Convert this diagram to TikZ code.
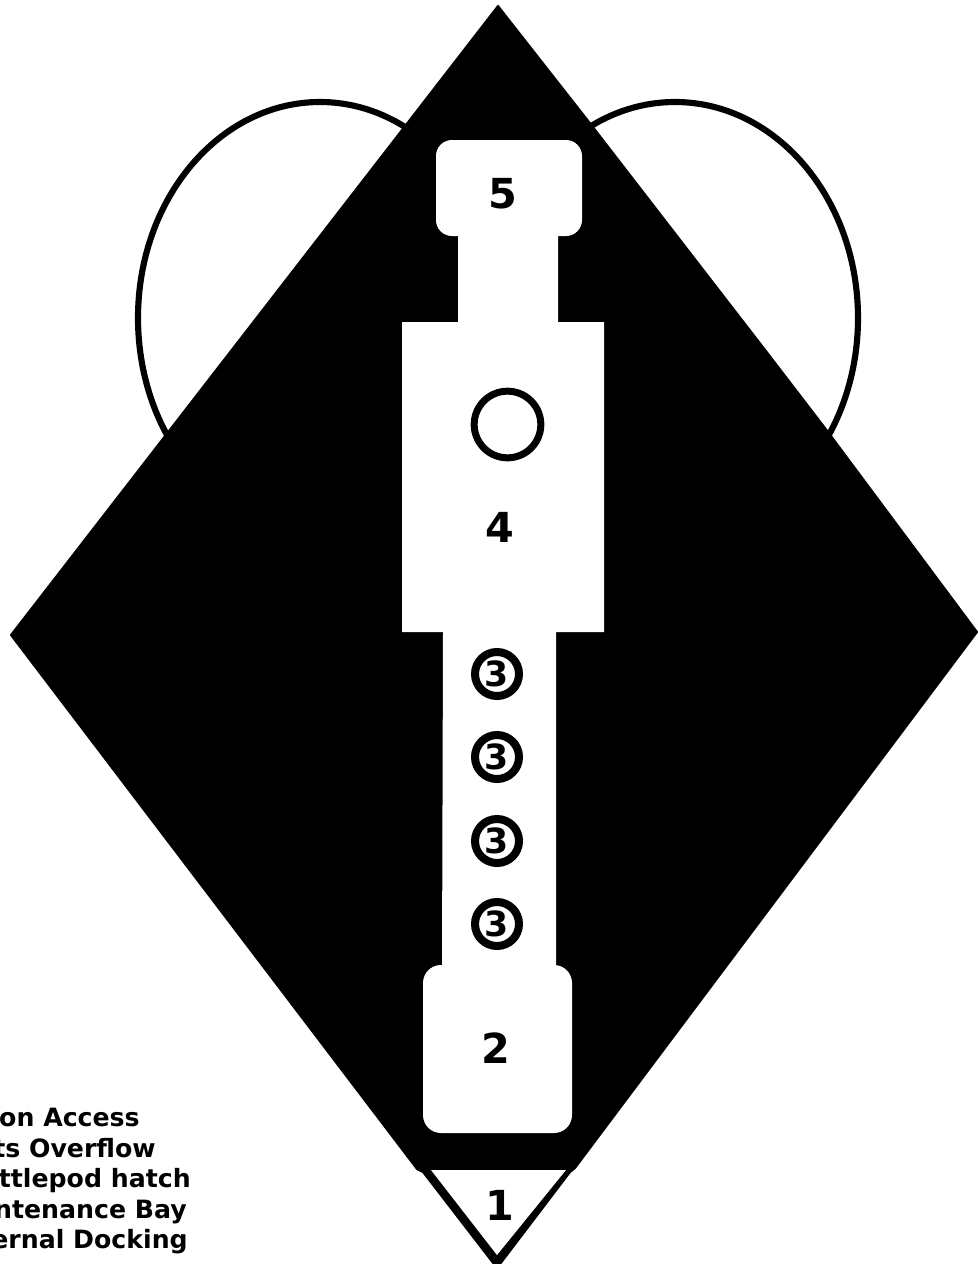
\documentclass[tikz,border=0pt]{standalone}
\usepackage{fontspec}
\setmainfont{DejaVu Sans}
\tikzset{
  ink/.style={fill=black,draw=black,line width=1.5pt,line join=round},
  room/.style={fill=white,draw=none},
  wing/.style={draw=black,line width=4.6pt},
  digit/.style={font=\bfseries\fontsize{31}{31}\selectfont,inner sep=0pt,text=black},
  pod/.style={circle,draw=black,fill=white,line width=6pt,minimum size=33pt,inner sep=0pt,font=\bfseries\fontsize{26}{26}\selectfont},
  hatch/.style={circle,draw=black,fill=white,line width=5.25pt,minimum size=50pt,inner sep=0pt},
  legend/.style={anchor=base east,inner sep=0pt,font=\bfseries\fontsize{18.9}{18.9}\selectfont}
}
\begin{document}
\begin{tikzpicture}[x=0.75pt,y=-0.75pt]
\useasboundingbox (0,0) rectangle (978,1264);
\clip (0,0) rectangle (978,1264);
% side loops
\draw[wing] (320,318) ellipse [x radius=182,y radius=216];
\draw[wing] (675,318) ellipse [x radius=183,y radius=216];
% hull
\fill[ink] (498,6) -- (589,122) -- (769,355) -- (825,428) -- (977,632) -- (575,1168) -- (570,1172) -- (497,1268) -- (423,1172) -- (417,1169) -- (11,635) -- cycle;
% white triangle
\fill[room] (431,1170) -- (566,1170) -- (497,1255) -- cycle;
% decks
\fill[room] (458,230) -- (458,322) -- (402,322) -- (402,632) -- (443,632) -- (442,975) -- (556,975) -- (556,632) -- (604,632) -- (604,322) -- (558,322) -- (558,230) -- cycle;
\fill[room,rounded corners=16*0.75pt] (436,140) rectangle (582,236);
\fill[room,rounded corners=18*0.75pt] (423,965) rectangle (572,1133);
% labels
\node[digit] (n5) at (503,194) {5};
\node[hatch] (h) at (507.5,424.5) {};
\node[digit] (n4) at (500,527) {4};
\node[pod] (p1) at (497,674) {3};
\node[pod] (p2) at (497,757) {3};
\node[pod] (p3) at (497,841) {3};
\node[pod] (p4) at (497,924) {3};
\node[digit] (n2) at (496,1048) {2};
\node[digit] (n1) at (500,1205) {1};
\node[legend] (l1) at (140,1126) {on Access};
\node[legend] (l2) at (156,1157) {ts Overflow};
\node[legend] (l3) at (191,1187) {ttlepod hatch};
\node[legend] (l4) at (187,1218) {ntenance Bay};
\node[legend] (l5) at (188,1248) {ernal Docking};
\end{tikzpicture}
\end{document}
